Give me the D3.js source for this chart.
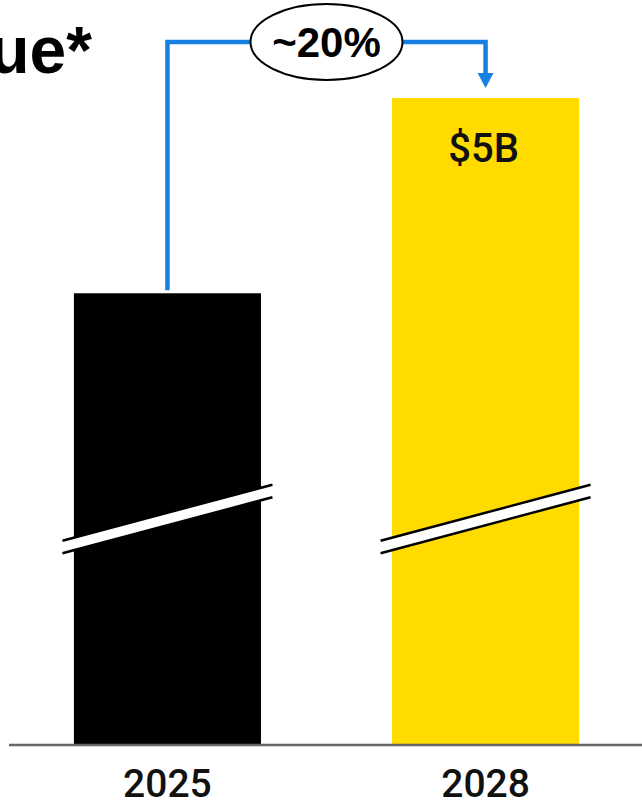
<!DOCTYPE html>
<html>
<head>
<meta charset="utf-8">
<script src="https://cdn.jsdelivr.net/npm/d3@7"></script>
<style>
  html, body { margin: 0; padding: 0; background: #fff; overflow: hidden; }
  svg { display: block; }
</style>
</head>
<body>
<script>
// Revenue, 2025 vs 2028 (axis broken, baseline not at zero)
const categories = ["2025", "2028"];
const revenue = [4.17, 5];           // $B
const valueLabels = [null, "$5B"];
const growthLabel = "~20%";
const titleText = "Revenue";

const W = 642, H = 807;
const baseY = 745, topY = 98;

const svg = d3.select("body").append("svg")
  .attr("width", W).attr("height", H);

const x = d3.scaleBand()
  .domain(categories)
  .range([9, 644])
  .paddingInner(0.412)
  .paddingOuter(0.204);

// broken axis: lower part of the scale is cut away
const y = d3.scaleLinear().domain([2.25, 5]).range([baseY, topY]);

const colors = d3.scaleOrdinal().domain(categories).range(["#000000", "#FFDB00"]);

// title (runs off the left edge)
svg.append("text")
  .attr("x", 92).attr("y", 73)
  .attr("text-anchor", "end")
  .attr("font-family", "'Liberation Sans', Arial, sans-serif")
  .attr("font-weight", 700)
  .attr("font-size", 66)
  .attr("fill", "#000")
  .text(titleText + "*");

// bars
svg.selectAll("rect.bar")
  .data(categories)
  .join("rect")
  .attr("class", "bar")
  .attr("x", d => x(d))
  .attr("y", (d, i) => y(revenue[i]))
  .attr("width", x.bandwidth())
  .attr("height", (d, i) => baseY - y(revenue[i]))
  .attr("fill", d => colors(d));

// axis break marks
const breakY = 519, halfLen = 105, slope = -56 / 210, gap = 12.5;
categories.forEach(c => {
  const cx = x(c) + x.bandwidth() / 2;
  const x0 = cx - halfLen, x1 = cx + halfLen;
  const y0 = breakY - slope * halfLen, y1 = breakY + slope * halfLen;
  const g = svg.append("g");
  g.append("path")
    .attr("d", `M${x0},${y0 - gap / 2}L${x1},${y1 - gap / 2}L${x1},${y1 + gap / 2}L${x0},${y0 + gap / 2}Z`)
    .attr("fill", "#fff");
  [-gap / 2, gap / 2].forEach(o => {
    g.append("line")
      .attr("x1", x0).attr("y1", y0 + o)
      .attr("x2", x1).attr("y2", y1 + o)
      .attr("stroke", "#000").attr("stroke-width", 2.5);
  });
});

// baseline axis
const xAxis = d3.axisBottom(x).tickSize(0).tickPadding(24);
const axisG = svg.append("g")
  .attr("transform", `translate(0,${baseY})`)
  .call(xAxis);
axisG.select(".domain")
  .attr("d", `M9,0H${W}`)
  .attr("stroke", "#666").attr("stroke-width", 2.5);
axisG.selectAll(".tick text")
  .attr("font-family", "Roboto, sans-serif")
  .attr("font-weight", 500)
  .attr("font-size", 39)
  .attr("fill", "#111");

// value label inside bar
valueLabels.forEach((lab, i) => {
  if (!lab) return;
  svg.append("text")
    .attr("x", x(categories[i]) + x.bandwidth() / 2 - 2)
    .attr("y", y(revenue[i]) + 64)
    .attr("text-anchor", "middle")
    .attr("font-family", "Roboto, sans-serif")
    .attr("font-weight", 500)
    .attr("font-size", 40)
    .attr("fill", "#111")
    .text(lab);
});

// growth connector
const blue = "#1681E2";
const ax0 = x(categories[0]) + x.bandwidth() / 2;
const ax1 = x(categories[1]) + x.bandwidth() / 2;
const lineY = 42;
const tipY = y(revenue[1]) - 10;
svg.append("path")
  .attr("d", `M${ax0},${y(revenue[0]) - 3}V${lineY}H${ax1}V${tipY - 12}`)
  .attr("fill", "none")
  .attr("stroke", blue)
  .attr("stroke-width", 4.5);
svg.append("path")
  .attr("d", `M${ax1 - 8},${tipY - 15}L${ax1 + 8},${tipY - 15}L${ax1},${tipY}Z`)
  .attr("fill", blue);

// growth bubble
const mx = (ax0 + ax1) / 2;
svg.append("ellipse")
  .attr("cx", mx).attr("cy", lineY)
  .attr("rx", 76).attr("ry", 38)
  .attr("fill", "#fff")
  .attr("stroke", "#000")
  .attr("stroke-width", 2);
svg.append("text")
  .attr("x", mx).attr("y", lineY + 15)
  .attr("text-anchor", "middle")
  .attr("font-family", "'Liberation Sans', Arial, sans-serif")
  .attr("font-weight", 700)
  .attr("font-size", 42)
  .attr("fill", "#000")
  .text(growthLabel);
</script>
</body>
</html>
